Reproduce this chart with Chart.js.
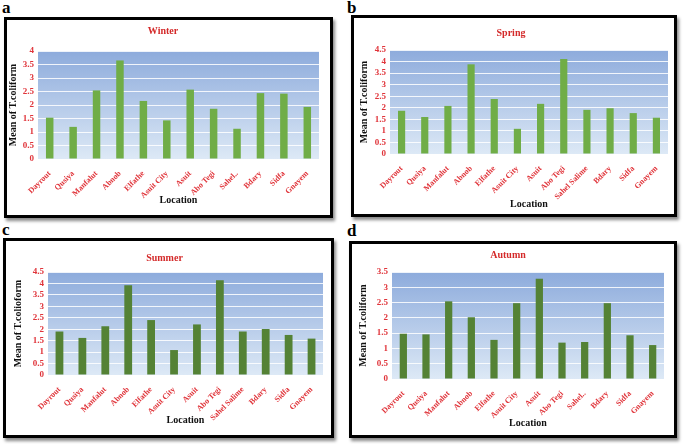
<!DOCTYPE html>
<html>
<head>
<meta charset="utf-8">
<script src="https://cdn.jsdelivr.net/npm/chart.js@4"></script>
<style>
  body { margin: 0; background: #fff; width: 685px; height: 444px; position: relative; overflow: hidden; font-family: "Liberation Serif", "Times New Roman", serif; }
  .box { position: absolute; border: 3px solid #000; background: #fff; box-shadow: 2px 3px 3px #8a8a8a; }
  .box canvas { display: block; }
  .tag { position: absolute; font-weight: bold; font-size: 17px; line-height: 1; }
</style>
</head>
<body>
<div class="tag" style="left:2px;top:-1px">a</div>
<div class="tag" style="left:347px;top:-1px">b</div>
<div class="tag" style="left:2px;top:221px">c</div>
<div class="tag" style="left:347px;top:222px">d</div>

<div class="box" style="left:4px;top:17px;width:323px;height:195px"><canvas id="winter" width="323" height="195"></canvas></div>
<div class="box" style="left:351px;top:15px;width:320px;height:196px"><canvas id="spring" width="320" height="196"></canvas></div>
<div class="box" style="left:3px;top:238px;width:325px;height:194px"><canvas id="summer" width="325" height="194"></canvas></div>
<div class="box" style="left:349px;top:241px;width:322px;height:191px"><canvas id="autumn" width="322" height="191"></canvas></div>

<script>
// locations per panel (spring/summer spell out Sahel Salime)
const locShort = ["Dayrout", "Qusiya", "Manfalut", "Abnob", "Elfathe", "Asuit City", "Asuit", "Abo Tegi", "Sahel..", "Bdary", "Sidfa", "Gnayem"];
const locLong = ["Dayrout", "Qusiya", "Manfalut", "Abnob", "Elfathe", "Asuit City", "Asuit", "Abo Tegi", "Sahel Salime", "Bdary", "Sidfa", "Gnayem"];

// mean T.coliform
const winterVals = [1.53, 1.19, 2.54, 3.65, 2.15, 1.43, 2.57, 1.86, 1.12, 2.44, 2.42, 1.93];
const springVals = [1.87, 1.6, 2.08, 3.88, 2.38, 1.09, 2.17, 4.11, 1.91, 1.98, 1.77, 1.57];
const summerVals = [1.9, 1.62, 2.13, 3.92, 2.4, 1.09, 2.21, 4.14, 1.9, 2.01, 1.75, 1.59];
const autumnVals = [1.48, 1.46, 2.54, 2.02, 1.28, 2.48, 3.28, 1.19, 1.21, 2.48, 1.43, 1.11];

const yMax = { winter: 4, spring: 4.5, summer: 4.5, autumn: 3.5 };

const SERIF = '"Liberation Serif", "Times New Roman", serif';
const RED = "#e0343a";

// blue gradient behind the plot area
const bgPlugin = {
  id: "plotBg",
  beforeDraw(chart) {
    const { ctx, chartArea: a } = chart;
    const g = ctx.createLinearGradient(0, a.top, 0, a.bottom);
    g.addColorStop(0, "#8dabdc");
    g.addColorStop(1, "#dde9f6");
    ctx.save();
    ctx.fillStyle = g;
    ctx.fillRect(a.left, a.top, a.right - a.left, a.bottom - a.top);
    ctx.restore();
  }
};

function drawPanel(id, title, labels, values, max, color, yTitle, lay) {
  new Chart(document.getElementById(id), {
    type: "bar",
    data: {
      labels: labels,
      datasets: [{
        data: values,
        backgroundColor: color,
        barPercentage: lay.bar,
        categoryPercentage: 1
      }]
    },
    plugins: [bgPlugin],
    options: {
      responsive: false,
      animation: false,
      layout: { padding: { left: 0, right: lay.right, top: 0, bottom: 0 } },
      plugins: {
        legend: { display: false },
        tooltip: { enabled: false },
        title: {
          display: true,
          text: title,
          color: "#d42a2a",
          font: { family: SERIF, size: 10, weight: "bold", lineHeight: 1.2 },
          padding: { top: lay.tTop, bottom: lay.tBot }
        }
      },
      scales: {
        x: {
          grid: { display: false },
          border: { display: false },
          ticks: {
            color: RED,
            font: { family: SERIF, size: 8, weight: "bold" },
            minRotation: 45, maxRotation: 45, autoSkip: false, padding: 2
          },
          title: {
            display: true, text: "Location", color: "#111",
            font: { family: SERIF, size: 10, weight: "bold", lineHeight: 1.2 },
            padding: { top: 0, bottom: lay.locPad }
          },
          afterFit: s => { s.height = lay.xH; }
        },
        y: {
          min: 0, max: max,
          grid: { color: "rgba(255,255,255,0.85)", drawTicks: false },
          border: { display: false },
          ticks: {
            stepSize: 0.5, autoSkip: false, color: RED, padding: 4,
            font: { family: SERIF, size: 9, weight: "bold" },
            callback: v => String(Math.round(v * 10) / 10)
          },
          title: {
            display: true, text: yTitle, color: "#111",
            font: { family: SERIF, size: 10, weight: "bold", lineHeight: 1.2 },
            padding: { top: lay.yPad, bottom: 0 }
          },
          afterFit: s => { s.width = lay.yW; }
        }
      }
    }
  });
}

drawPanel("winter", "Winter", locShort, winterVals, yMax.winter, "#70ad47", "Mean of T.coliform",
  { bar: 0.32, right: 11, tTop: 5, tBot: 14, xH: 56, locPad: 9, yW: 31, yPad: 0 });
drawPanel("spring", "Spring", locLong, springVals, yMax.spring, "#70ad47", "Mean of T.coliform",
  { bar: 0.31, right: 6, tTop: 9, tBot: 11, xH: 60, locPad: 4, yW: 36, yPad: 4 });
drawPanel("summer", "Summer", locLong, summerVals, yMax.summer, "#548235", "Mean of T.colioform",
  { bar: 0.34, right: 8, tTop: 11, tBot: 8, xH: 60, locPad: 9, yW: 42, yPad: 6 });
drawPanel("autumn", "Autumn", locShort, autumnVals, yMax.autumn, "#548235", "Mean of T.coliform",
  { bar: 0.32, right: 10, tTop: 5, tBot: 11, xH: 56, locPad: 6, yW: 40, yPad: 5 });
</script>
</body>
</html>
